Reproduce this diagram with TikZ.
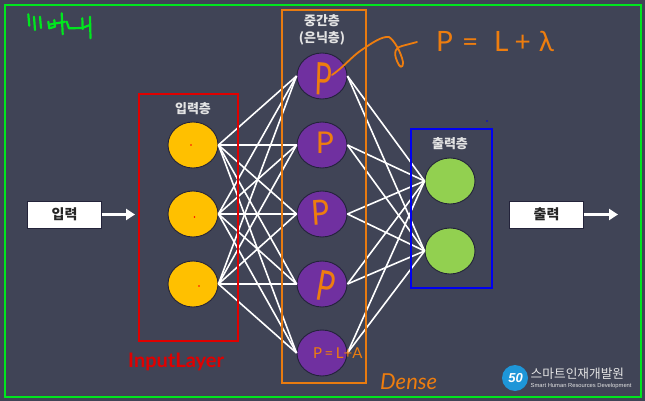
\documentclass[tikz,border=0pt]{standalone}
\usepackage{fontspec}
\setmainfont{Lato}
\newfontfamily\kr{Noto Sans CJK KR}
\newfontfamily\lib{Liberation Sans}
\usetikzlibrary{shapes.geometric,arrows.meta}
\definecolor{bg}{HTML}{404456}
\definecolor{ringdark}{HTML}{23233A}
\definecolor{inY}{HTML}{FFC000}
\definecolor{hidP}{HTML}{7030A0}
\definecolor{outG}{HTML}{92D050}
\definecolor{hand}{HTML}{EE7D0E}
\definecolor{frameG}{HTML}{00E61E}
\definecolor{frameR}{HTML}{E00000}
\definecolor{frameO}{HTML}{E87B10}
\definecolor{frameB}{HTML}{0000F0}
\definecolor{labelgray}{HTML}{E4E4E4}
\definecolor{logoB}{HTML}{1E96D8}
\tikzset{
  neuron/.style={ellipse,draw=ringdark,line width=0.9pt,minimum width=50pt,minimum height=46pt,inner sep=0pt},
  inN/.style={neuron,fill=inY},
  hidN/.style={neuron,fill=hidP},
  outN/.style={neuron,fill=outG},
  link/.style={draw=white,line width=1.6pt},
  frame/.style={line width=2pt},
  iobox/.style={draw=ringdark,line width=.5pt,fill=white,minimum width=74pt,minimum height=27pt,inner sep=0pt,font=\kr\bfseries\fontsize{14}{15}\selectfont,text=black!85},
  layerlabel/.style={font=\kr\bfseries\fontsize{13}{17}\selectfont,text=labelgray,inner sep=0pt,align=center},
  flow/.style={draw=white,line width=2.4pt,-{Triangle[length=9pt,width=11pt]}},
  penO/.style={draw=hand,line width=1.8pt,line cap=round,line join=round},
  penG/.style={draw=frameG,line width=2.2pt,line cap=round,line join=round},
  handP/.style={text=hand,inner sep=0pt,font=\fontsize{30}{30}\selectfont,transform shape},
  dot/.style={circle,fill=red,minimum size=1.8pt,inner sep=0pt},
}
\begin{document}
\begin{tikzpicture}[x=1pt,y=-1pt]
\useasboundingbox (0,0) rectangle (645,401);
\fill[bg] (0,0) rectangle (645,401);
% neurons
\foreach \n/\y in {1/145,2/214,3/284}{\node[inN] (i\n) at (193,\y) {};}
\foreach \n/\y in {1/76,2/145,3/214,4/284,5/353}{\node[hidN] (h\n) at (322,\y) {};}
\foreach \n/\y in {1/181,2/251}{\node[outN] (o\n) at (450,\y) {};}
% links
\foreach \a in {1,2,3}{\foreach \b in {1,...,5}{\draw[link] (i\a.east) -- (h\b.west);}}
\foreach \a in {1,...,5}{\foreach \b in {1,2}{\draw[link] (h\a.east) -- (o\b.west);}}
% frames
\draw[frame,draw=frameG] (5,5) -- (640.5,5) -- (640.5,397) -- (5,397) -- cycle;
\draw[frame,draw=frameR] (138.5,94) -- (238,94) -- (238,341) -- (138.5,341) -- cycle;
\draw[frame,draw=frameO] (282,10) -- (366,10) -- (366,383) -- (282,383) -- cycle;
\draw[frame,draw=frameB] (411,129) -- (492,129) -- (492,288) -- (411,288) -- cycle;
% layer labels
\node[layerlabel] (l1) at (193,109) {입력층};
\node[layerlabel] (l2) at (322,30) {중간층\\(은닉층)};
\node[layerlabel] (l3) at (450,144) {출력층};
% io
\node[iobox] (inbox) at (64.5,214.5) {입력};
\node[iobox] (outbox) at (546.5,214.5) {출력};
\coordinate (inend) at (135,214.5);
\coordinate (outend) at (618,214.5);
\draw[flow] (inbox.east) -- (inend);
\draw[flow] (outbox.east) -- (outend);
% dots
\node[dot] (d1) at (191,145) {};
\node[dot] (d2) at (194.5,217) {};
\node[dot] (d3) at (199,286) {};
\node[circle,fill=frameB,minimum size=1.6pt,inner sep=0pt] (d4) at (487,121) {};
% handwriting
\node[handP,yscale=1.5,xscale=.95,rotate=-3] (p1) at (323.5,79) {P};
\node[handP] (p2) at (325,143) {P};
\node[handP,rotate=4,yscale=1.15] (p3) at (321,213) {P};
\node[handP,rotate=-10,yscale=1.4] (p4) at (326,286) {P};
\node[text=hand,inner sep=0pt,font=\fontsize{15}{15}\selectfont,anchor=west] (p5) at (313,353.5) {P\,=\,L+A};
\node[text=hand,inner sep=0pt,anchor=west,font=\fontsize{28}{28}\selectfont] (eq) at (436,41) {P\hspace{9pt}=\hspace{16pt}L\hspace{6pt}+\hspace{8pt}λ};
\node[text=frameR,inner sep=0pt,anchor=west,font=\bfseries\fontsize{20}{20}\selectfont] (t1) at (128,362) {InputLayer};
\node[text=hand,inner sep=0pt,anchor=west,font=\fontsize{22}{22}\selectfont\itshape] (t2) at (380,382) {Dense};
\coordinate (flourish) at (332,75);
\draw[penO] (flourish) .. controls (345,66) and (352,56) .. (363,49)
  .. controls (372,43) and (382,36) .. (389,37)
  .. controls (394,40) and (401,52) .. (403,62)
  .. controls (403,70) and (399,67) .. (397,61)
  .. controls (393,52) and (396,47) .. (402,46) -- (417,42);
% green scribble
\draw[penG] (28.3,14.3) -- (29.3,25.7);
\draw[penG] (34,16.7) -- (35,30);
\draw[penG] (40,16.7) -- (41,28);
\draw[penG] (48.3,21.7) -- (49.3,28.3) -- (55,26.7) -- (54.3,20);
\draw[penG] (50,24.5) -- (65,21.7);
\draw[penG] (61.7,13.3) -- (62.7,34.3);
\draw[penG] (66.7,21.7) -- (69,28.3) -- (82,28) -- (90,25);
\draw[penG] (82.3,18.3) -- (82.7,29);
\draw[penG] (90,16.7) -- (90.5,38.3);
% logo
\node[circle,fill=logoB,minimum size=26pt,inner sep=0pt] (logo) at (515,378) {};
\node[text=white,inner sep=0pt,font=\lib\bfseries\itshape\fontsize{13}{13}\selectfont] (logotxt) at (515.5,378) {50};
\node[text=labelgray,inner sep=0pt,anchor=west,font=\kr\fontsize{12.7}{13}\selectfont] (logok) at (530.5,374) {스마트인재개발원};
\node[text=labelgray,inner sep=0pt,anchor=west,font=\lib\fontsize{5.8}{6}\selectfont] (logoe) at (530.5,386) {Smart Human Resources Development};
\end{tikzpicture}
\end{document}
